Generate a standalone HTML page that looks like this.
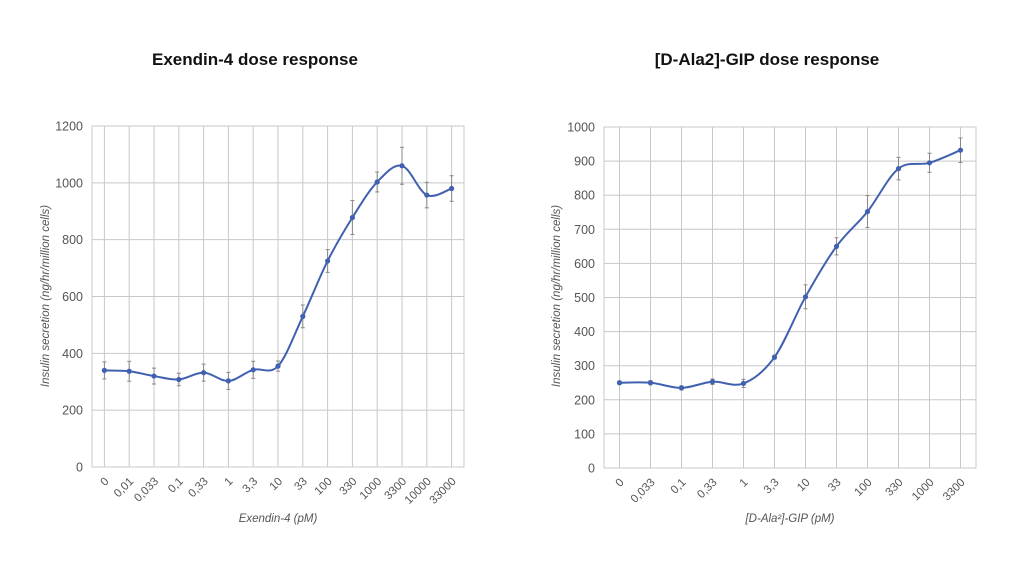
<!DOCTYPE html>
<html><head><meta charset="utf-8"><style>
body{margin:0;background:#fff;width:1024px;height:576px;overflow:hidden}
svg text{font-family:"Liberation Sans",sans-serif}
</style></head><body>
<svg id="s" width="1024" height="576" xmlns="http://www.w3.org/2000/svg">
<text x="255" y="65" text-anchor="middle" font-size="17" font-weight="bold" fill="#111">Exendin-4 dose response</text>
<text x="767" y="65" text-anchor="middle" font-size="17" font-weight="bold" fill="#111">[D-Ala2]-GIP dose response</text>
</svg>
<script>
const NS="http://www.w3.org/2000/svg",S=document.getElementById('s');
function el(t,a,txt){const e=document.createElementNS(NS,t);for(const k in a)e.setAttribute(k,a[k]);if(txt!==undefined)e.textContent=txt;S.appendChild(e);return e;}
function chart(o){
 const {L,R,T,B,max,step,cats,data,err,xt,lx,cy}=o;
 const n=cats.length,w=(R-L)/n,X=i=>L+w*(i+.5),Y=v=>B-(B-T)*v/max;
 for(let v=0;v<=max;v+=step){el('line',{x1:L,x2:R,y1:Y(v),y2:Y(v),stroke:'#c8c8c8','stroke-width':1});
  el('text',{x:L-9,y:Y(v)+4.5,'text-anchor':'end','font-size':12.5,fill:'#555'},v);}
 for(let i=0;i<n;i++){el('line',{x1:X(i),x2:X(i),y1:T,y2:B,stroke:'#c8c8c8','stroke-width':1});
  el('text',{x:0,y:0,'text-anchor':'end','font-size':11.5,fill:'#555',transform:`translate(${X(i)+5},${B+15}) rotate(-45)`},cats[i]);}
 el('rect',{x:L,y:T,width:R-L,height:B-T,fill:'none',stroke:'#c8c8c8'});
 for(let i=0;i<n;i++){const x=X(i),a=Y(data[i]+err[i]),b=Y(data[i]-err[i]);
  el('line',{x1:x,x2:x,y1:a,y2:b,stroke:'#888'});el('line',{x1:x-2,x2:x+2,y1:a,y2:a,stroke:'#888'});el('line',{x1:x-2,x2:x+2,y1:b,y2:b,stroke:'#888'});}
 const P=data.map((v,i)=>[X(i),Y(v)]);let d=`M${P[0]}`;
 for(let i=0;i<n-1;i++){const p0=P[Math.max(0,i-1)],p1=P[i],p2=P[i+1],p3=P[Math.min(n-1,i+2)],t=6;
  d+=`C${p1[0]+(p2[0]-p0[0])/t},${p1[1]+(p2[1]-p0[1])/t} ${p2[0]-(p3[0]-p1[0])/t},${p2[1]-(p3[1]-p1[1])/t} ${p2[0]},${p2[1]}`;}
 el('path',{d,fill:'none',stroke:'#4060b0','stroke-width':2});
 P.forEach(p=>el('circle',{cx:p[0],cy:p[1],r:2.6,fill:'#4060b0'}));
 el('text',{x:(L+R)/2,y:522,'text-anchor':'middle','font-size':11.5,'font-style':'italic',fill:'#555'},xt);
 el('text',{x:0,y:0,'text-anchor':'middle','font-size':11.5,'font-style':'italic',fill:'#555',transform:`translate(${lx},${cy}) rotate(-90)`},o.yt);
}
chart({L:92,R:464,T:126,B:467,max:1200,step:200,cats:['0','0,01','0,033','0,1','0,33','1','3,3','10','33','100','330','1000','3300','10000','33000'],
 data:[340,337,320,308,332,303,342,355,530,725,878,1003,1060,957,980],err:[30,35,28,22,30,30,30,18,40,40,60,35,65,45,45],
 xt:'Exendin-4 (pM)',yt:'Insulin secretion (ng/hr/million cells)',lx:49,cy:296});
chart({L:604,R:976,T:127,B:468,max:1000,step:100,cats:['0','0,033','0,1','0,33','1','3,3','10','33','100','330','1000','3300'],
 data:[250,250,235,253,248,325,502,650,752,878,895,932],err:[5,6,6,8,12,6,35,25,47,33,28,36],
 xt:'[D-Ala²]-GIP (pM)',yt:'Insulin secretion (ng/hr/million cells)',lx:560,cy:296});
</script>
</body></html>
